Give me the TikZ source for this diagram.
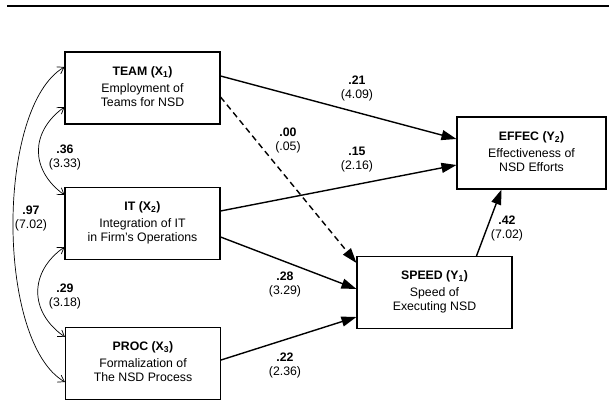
\documentclass[tikz,border=0pt]{standalone}
\usepackage{fontspec}
\setmainfont{Liberation Sans}
\usetikzlibrary{arrows.meta,calc}
\newcommand{\boxtext}[3]{\raisebox{4pt}{\begin{tabular}{@{}c@{}}\textbf{#1}\\[3pt]#2\\#3\end{tabular}}}
\begin{document}
\begin{tikzpicture}[x=1pt,y=1pt,
  box/.style={draw, line width=1.1pt, minimum width=155pt, minimum height=72pt, inner sep=0pt, font=\fontsize{12.3}{14}\selectfont},
  pathar/.style={line width=1.4pt, -{Triangle[length=15pt,width=10pt]}},
  cov/.style={line width=0.7pt, {Straight Barb[length=6pt,width=8pt]}-{Straight Barb[length=6pt,width=8pt]}},
  coef/.style={align=center, font=\fontsize{12.3}{14}\selectfont, inner sep=0pt}]
\useasboundingbox (0,0) rectangle (609,401);
\coordinate (ruleL) at (7,395);
\coordinate (ruleR) at (609,395);
\draw[line width=2.6pt] (ruleL) -- (ruleR);

\node[box] (team) at (142.5,313) {\boxtext{TEAM (X\textsubscript{1})}{Employment of}{Teams for NSD}};
\node[box] (it) at (142.5,177.5) {\boxtext{IT (X\textsubscript{2})}{Integration of IT}{in Firm's Operations}};
\node[box] (proc) at (143,37.5) {\boxtext{PROC (X\textsubscript{3})}{Formalization of}{The NSD Process}};
\node[box, minimum width=149pt] (effec) at (531.5,248) {\boxtext{EFFEC (Y\textsubscript{2})}{Effectiveness of}{NSD Efforts}};
\node[box] (speed) at (434.5,108.5) {\boxtext{SPEED (Y\textsubscript{1})}{Speed of}{Executing NSD}};

\draw[pathar] ($(team.east)+(0,12)$) -- ($(effec.west)+(0,14)$);
\draw[pathar] ($(it.east)+(0,12.5)$) -- ($(effec.west)+(0,-12)$);
\draw[pathar, dash pattern=on 6pt off 4pt] ($(team.east)+(0,-9)$) -- ($(speed.west)+(0,29.5)$);
\draw[pathar] ($(it.east)+(0,-13.5)$) -- ($(speed.west)+(0,3.5)$);
\draw[pathar] ($(proc.east)+(0,3.5)$) -- ($(speed.west)+(0,-24.5)$);
\draw[pathar] ($(speed.north)+(42,0)$) -- ($(effec.south)+(-30,0)$);

\draw[cov] ($(team.west)+(0,-19)$) .. controls (30,269) and (30,231) .. ($(it.west)+(0,28.5)$);
\draw[cov] ($(it.west)+(0,-23.5)$) .. controls (29,129) and (29,89) .. ($(proc.west)+(0,26.5)$);
\draw[cov] ($(team.west)+(0,21)$) .. controls (-4,294) and (-4,59) .. ($(proc.west)+(0,-18.5)$);

\node[coef] (c21) at (357,313) {\textbf{.21}\\(4.09)};
\node[coef] (c00) at (288,260.5) {\textbf{.00}\\(.05)};
\node[coef] (c15) at (357,241.5) {\textbf{.15}\\(2.16)};
\node[coef] (c28) at (285,116.5) {\textbf{.28}\\(3.29)};
\node[coef] (c22) at (285,35.5) {\textbf{.22}\\(2.36)};
\node[coef] (c42) at (507,172.5) {\textbf{.42}\\(7.02)};
\node[coef] (c36) at (65,243.5) {\textbf{.36}\\(3.33)};
\node[coef] (c97) at (31,183) {\textbf{.97}\\(7.02)};
\node[coef] (c29) at (65,105) {\textbf{.29}\\(3.18)};
\end{tikzpicture}
\end{document}
